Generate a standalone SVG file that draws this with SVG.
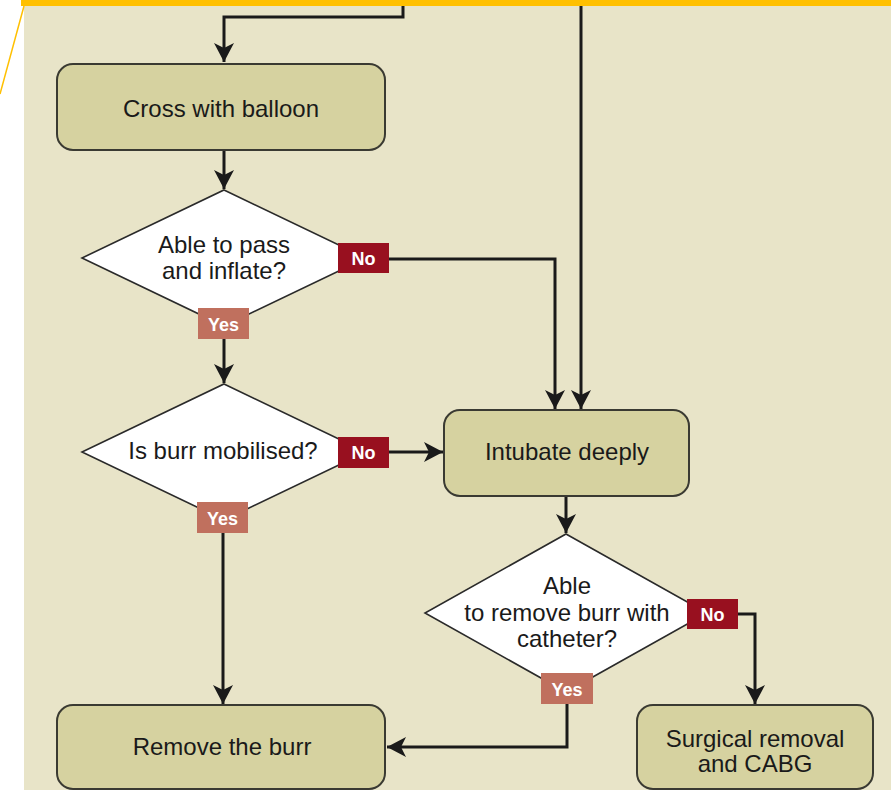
<svg xmlns="http://www.w3.org/2000/svg" width="891" height="790" viewBox="0 0 891 790">
<defs>
<style>
.box{fill:#D6D2A0;stroke:#3a3a32;stroke-width:2}
.dia{fill:#ffffff;stroke:#2a2a2a;stroke-width:1.6}
.t{font-family:"Liberation Sans",Arial,sans-serif;font-size:24px;fill:#1a1a1a;text-anchor:middle}
.lbl{font-family:"Liberation Sans",Arial,sans-serif;font-size:18px;font-weight:bold;fill:#ffffff;text-anchor:middle}
.no{fill:#98101F}
.yes{fill:#C0705E}
.c{fill:none;stroke:#1a1a1a;stroke-width:3}
</style>
<marker id="ah" markerUnits="userSpaceOnUse" markerWidth="24" markerHeight="24" viewBox="-20 -12 24 24" refX="0" refY="0" orient="auto">
<path d="M0,0 L-19,-10 L-14,0 L-19,10 Z" fill="#1a1a1a"/>
</marker>
</defs>
<rect x="0" y="0" width="891" height="790" fill="#ffffff"/>
<rect x="24" y="6" width="867" height="784" fill="#E8E4C8"/>
<rect x="21" y="0" width="870" height="6" fill="#FFC000"/>
<line x1="24" y1="6" x2="0" y2="94" stroke="#FFC000" stroke-width="1.5"/>

<g id="connectors">
<path class="c" d="M403,6 V17 H224 V62" marker-end="url(#ah)"/>
<path class="c" d="M581,6 V409" marker-end="url(#ah)"/>
<path class="c" d="M224,150 V189" marker-end="url(#ah)"/>
<path class="c" d="M389,259 H555 V409" marker-end="url(#ah)"/>
<path class="c" d="M224,339 V383" marker-end="url(#ah)"/>
<path class="c" d="M389,452 H443" marker-end="url(#ah)"/>
<path class="c" d="M223,533 V704" marker-end="url(#ah)"/>
<path class="c" d="M566,496 V533" marker-end="url(#ah)"/>
<path class="c" d="M738,614 H755 V704" marker-end="url(#ah)"/>
<path class="c" d="M567,704 V747 H387" marker-end="url(#ah)"/>
</g>

<g id="cross">
<rect class="box" x="57" y="64" width="328" height="86" rx="16"/>
<text class="t" x="221" y="117">Cross with balloon</text>
</g>

<g id="d1">
<polygon class="dia" points="224,190 366,258 224,326 82,258"/>
<text class="t" x="224" y="253">Able to pass</text>
<text class="t" x="224" y="279">and inflate?</text>
<rect class="no" x="338" y="243" width="51" height="30"/>
<text class="lbl" x="363.5" y="265">No</text>
<rect class="yes" x="198" y="308" width="51" height="31"/>
<text class="lbl" x="223.5" y="331">Yes</text>
</g>

<g id="d2">
<polygon class="dia" points="224,384 366,452 224,520 82,452"/>
<text class="t" x="223" y="459">Is burr mobilised?</text>
<rect class="no" x="338" y="437" width="51" height="31"/>
<text class="lbl" x="363.5" y="459">No</text>
<rect class="yes" x="197" y="502" width="51" height="31"/>
<text class="lbl" x="222.5" y="525">Yes</text>
</g>

<g id="intubate">
<rect class="box" x="444" y="410" width="245" height="86" rx="16"/>
<text class="t" x="567" y="460">Intubate deeply</text>
</g>

<g id="d3">
<polygon class="dia" points="566,534 707,613 566,692 425,613"/>
<text class="t" x="567" y="594">Able</text>
<text class="t" x="567" y="621">to remove burr with</text>
<text class="t" x="567" y="647">catheter?</text>
<rect class="no" x="687" y="599" width="51" height="30"/>
<text class="lbl" x="712.5" y="621">No</text>
<rect class="yes" x="541" y="673" width="52" height="31"/>
<text class="lbl" x="567" y="696">Yes</text>
</g>

<g id="remove">
<rect class="box" x="57" y="705" width="328" height="84" rx="16"/>
<text class="t" x="222" y="755">Remove the burr</text>
</g>

<g id="surgical">
<rect class="box" x="637" y="705" width="236" height="84" rx="16"/>
<text class="t" x="755" y="747">Surgical removal</text>
<text class="t" x="755" y="772">and CABG</text>
</g>
</svg>
